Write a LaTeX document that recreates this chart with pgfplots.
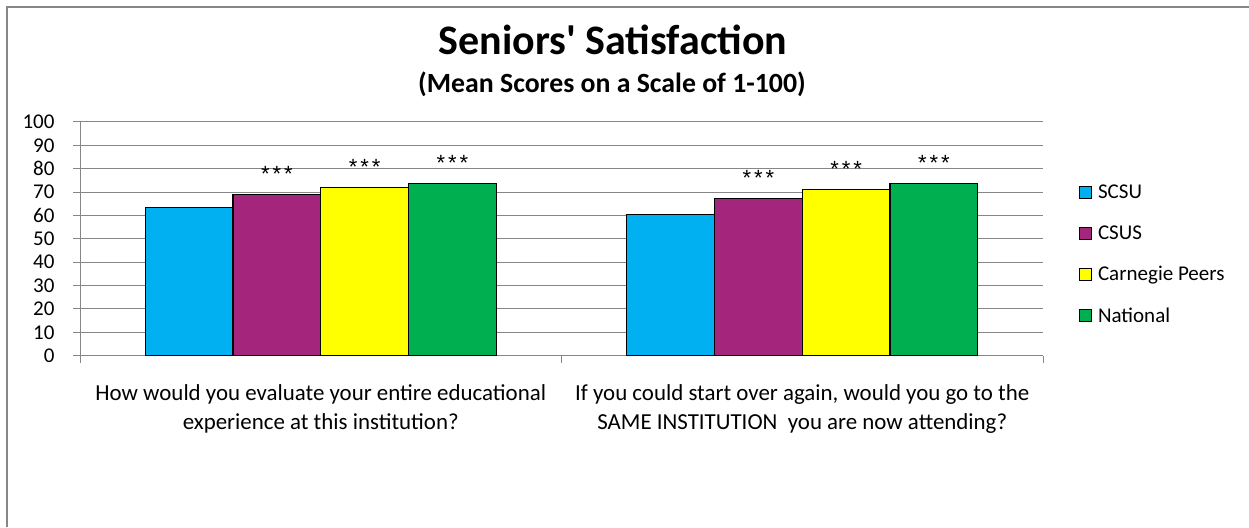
\documentclass[border=0pt]{standalone}
\usepackage{pgfplots}
\pgfplotsset{compat=1.18}
\usepackage{fontspec}
\setmainfont{Carlito}
\newfontfamily\starfont{Liberation Sans}
\definecolor{cSCSU}{HTML}{00B0F0}
\definecolor{cCSUS}{HTML}{A3257C}
\definecolor{cCarn}{HTML}{FFFF00}
\definecolor{cNat}{HTML}{00B050}
\definecolor{gridgray}{HTML}{878787}
\newcommand{\basefont}{\fontsize{21pt}{29pt}\selectfont}
\newcommand{\labfont}{\fontsize{22.9pt}{29pt}\selectfont}
\newcommand{\stars}{{\starfont\fontsize{22pt}{26pt}\selectfont *\hspace{3pt}*\hspace{3pt}*}}
\begin{document}
\begin{tikzpicture}[x=1pt,y=1pt]
\draw[gridgray,line width=1.2pt] (7,0) -- (7,520) -- (1249,520);
\node[font=\fontsize{42pt}{48pt}\selectfont\bfseries,anchor=base] at (613,472.7) {Seniors\textquotesingle\ Satisfaction};
\node[font=\fontsize{27.8pt}{32pt}\selectfont\bfseries,anchor=base] at (612,434.3) {(Mean Scores on a Scale of 1-100)};
\begin{axis}[
  at={(80pt,171.3pt)}, anchor=south west,
  scale only axis, width=963pt, height=233.7pt,
  xmin=-0.5, xmax=1.5, ymin=0, ymax=100,
  ybar=0pt, bar width=0.1822,
  axis x line*=bottom, axis y line*=left,
  axis line style={gridgray, line width=1pt, -},
  ytick={0,10,...,100},
  ymajorgrids, grid style={gridgray, line width=1pt},
  major tick length=7pt,
  tick align=outside,
  tick style={gridgray, line width=1pt},
  xtick={0,1},
  x tick style={draw=none},
  minor xtick={-0.5,0.5,1.5},
  minor x tick style={draw=gridgray, line width=1pt},
  minor tick length=7pt,
  xticklabels={{How would you evaluate your entire educational\\experience at this institution?},{If you could start over again, would you go to the\\SAME INSTITUTION\ \ you are now attending?}},
  xticklabel style={font=\labfont, align=center, yshift=-18pt},
  yticklabel style={font=\basefont, xshift=-15pt},
  /pgf/number format/assume math mode=true,
  legend style={draw=none, fill=none, font=\basefont, at={(1.037,0.74)}, anchor=north west, row sep=21.5pt, inner sep=0pt, cells={anchor=west}},
  legend cell align=left,
  legend image code/.code={\draw[#1, draw=black, line width=1.2pt] (0pt,-6pt) rectangle (12pt,6pt); \path (16pt,0pt);},
  every node near coord/.append style={anchor=base, yshift=13pt},
]
\addplot[fill=cSCSU, draw=black, line width=1.2pt] coordinates {(0,63.4) (1,60.5)};
\addplot[fill=cCSUS, draw=black, line width=1.2pt, nodes near coords={\stars}] coordinates {(0,68.9) (1,67.4)};
\addplot[fill=cCarn, draw=black, line width=1.2pt, nodes near coords={\stars}] coordinates {(0,72.0) (1,71.2)};
\addplot[fill=cNat, draw=black, line width=1.2pt, nodes near coords={\stars}] coordinates {(0,73.6) (1,73.6)};
\legend{SCSU, CSUS, Carnegie Peers, National}
\end{axis}
\pgfresetboundingbox
\path (0,0) rectangle (1249,527);
\end{tikzpicture}
\end{document}
